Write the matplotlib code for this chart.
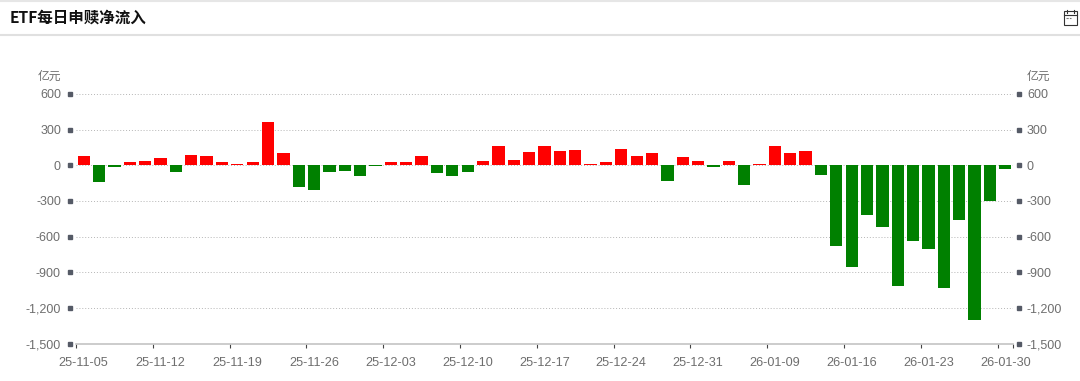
import matplotlib
matplotlib.use("Agg")
import matplotlib.pyplot as plt
from matplotlib.lines import Line2D
from matplotlib.patches import Rectangle
from matplotlib.ticker import FixedLocator, FuncFormatter, NullFormatter

plt.rcParams["font.family"] = ["Liberation Sans", "Noto Sans CJK SC", "DejaVu Sans"]

title_text = "ETF每日申赎净流入"
unit_text = "亿元"

net_inflow = [
    80, -140, -15, 25, 35, 60, -60, 90, 80, 25,
    15, 30, 365, 105, -180, -210, -60, -50, -88, -7,
    28, 28, 76, -65, -93, -55, 35, 163, 45, 110,
    163, 124, 129, 14, 28, 140, 79, 101, -135, 67,
    34, -11, 34, -168, 10, 163, 107, 121, -84, -683,
    -860, -419, -522, -1017, -640, -705, -1034, -458, -1303, -300,
    -33,
]
date_labels = [
    "25-11-05", "25-11-12", "25-11-19", "25-11-26", "25-12-03", "25-12-10", "25-12-17",
    "25-12-24", "25-12-31", "26-01-09", "26-01-16", "26-01-23", "26-01-30",
]
y_ticks = [600, 300, 0, -300, -600, -900, -1200, -1500]

W, H = 1080, 381
LABEL_COLOR = "#6e6e6e"
MARK_COLOR = "#555a66"

fig = plt.figure(figsize=(W / 100, H / 100), dpi=100, facecolor="white")
ax = fig.add_axes([76 / W, 1 - 343.5 / H, (1013 - 76) / W, (343.5 - 94) / H])

n_bars = len(net_inflow)
positions = [i + 0.5 for i in range(n_bars)]
colors = ["#ff0000" if v >= 0 else "#008000" for v in net_inflow]
ax.bar(positions, net_inflow, width=0.8, color=colors, zorder=3)

ax.set_xlim(0, n_bars)
ax.set_ylim(-1500, 600)

# dotted grid, no zero line visible behind the bars
ax.set_yticks(y_ticks)
ax.yaxis.set_major_formatter(FuncFormatter(lambda v, _: f"{int(v):,}"))
ax.tick_params(axis="y", length=0, pad=10.8, labelsize=9, labelcolor=LABEL_COLOR)
ax.grid(axis="y", linestyle=(0, (1, 2)), linewidth=0.7, color="#b5b5b5", zorder=1)

for side in ["top", "left", "right"]:
    ax.spines[side].set_visible(False)
ax.spines["bottom"].set_color("#c4c4c4")
ax.spines["bottom"].set_linewidth(1.2)

# band edges get the tick, band centres get the label
tick_steps = list(range(0, n_bars, 5))
ax.xaxis.set_major_locator(FixedLocator(tick_steps + [n_bars]))
ax.xaxis.set_major_formatter(NullFormatter())
ax.tick_params(axis="x", which="major", length=3, width=0.8, color="#444444")
ax.set_xticks([s + 0.5 for s in tick_steps], labels=date_labels, minor=True)
ax.tick_params(axis="x", which="minor", length=0, pad=9.8, labelsize=9.1, labelcolor=LABEL_COLOR)

# square markers and labels on both sides
yaxis_tf = ax.get_yaxis_transform()
ax.plot([-6 / 937] * len(y_ticks), y_ticks, linestyle="none", marker="s", markersize=2.2,
        color=MARK_COLOR, transform=yaxis_tf, clip_on=False)
ax.plot([1 + 6 / 937] * len(y_ticks), y_ticks, linestyle="none", marker="s", markersize=2.2,
        color=MARK_COLOR, transform=yaxis_tf, clip_on=False)
for tick_value in y_ticks:
    ax.annotate(f"{tick_value:,}", xy=(1, tick_value), xycoords=yaxis_tf, xytext=(10, 0),
                textcoords="offset points", ha="left", va="center_baseline", fontsize=9,
                color=LABEL_COLOR)

fig.text(61 / W, 1 - 77 / H, unit_text, ha="right", va="center", fontsize=8.5, color=LABEL_COLOR)
fig.text(1027 / W, 1 - 77 / H, unit_text, ha="left", va="center", fontsize=8.5, color=LABEL_COLOR)

# header
fig.text(10 / W, 1 - 18 / H, title_text, ha="left", va="center", fontsize=11.2, fontweight="bold",
         color="#111111", family=["Noto Sans CJK SC", "DejaVu Sans"])
fig.add_artist(Line2D([0, 1], [1 - 0.5 / H] * 2, color="#e6e6e6", linewidth=1.5))
fig.add_artist(Line2D([0, 1], [1 - 34.5 / H] * 2, color="#e0e0e0", linewidth=1.5))

# calendar icon
fig.add_artist(Rectangle((1063.5 / W, 1 - 24.5 / H), 13 / W, 13 / H, fill=False,
                         edgecolor="#333333", linewidth=0.8, transform=fig.transFigure))
fig.add_artist(Line2D([1063.5 / W, 1076.5 / W], [1 - 14.5 / H] * 2, color="#333333", linewidth=0.8))
for icon_x in [1066.5, 1073.5]:
    fig.add_artist(Line2D([icon_x / W] * 2, [1 - 13 / H, 1 - 10 / H], color="#333333", linewidth=0.8))
fig.add_artist(Line2D([1065.5 / W, 1070.5 / W], [1 - 18 / H] * 2, color="#777777", linewidth=0.8,
                      linestyle=(0, (2, 1))))

fig.savefig("out.png", dpi=100)
plt.close(fig)
